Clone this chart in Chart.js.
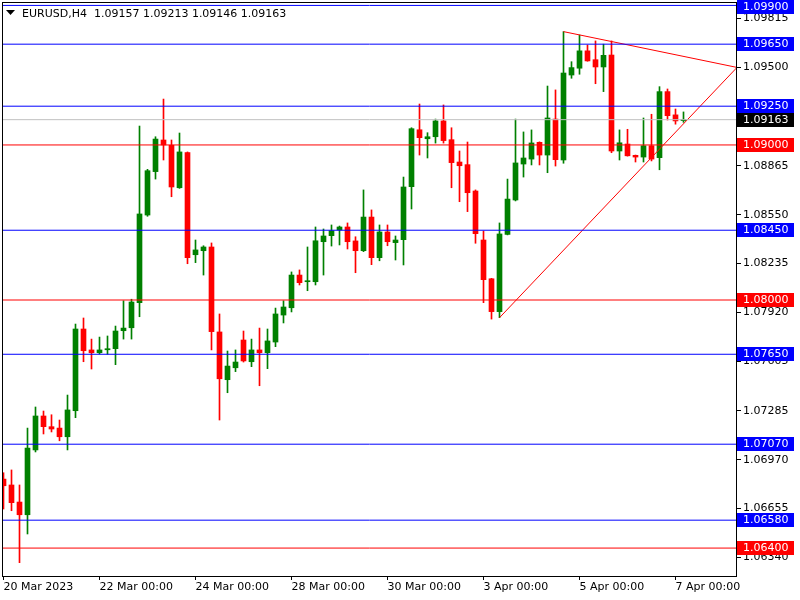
<!DOCTYPE html>
<html lang="en">
<head>
<meta charset="UTF-8">
<title>EURUSD,H4</title>
<script src="https://cdn.jsdelivr.net/npm/chart.js"></script>
<style>
    body { margin: 0; background: #fff; }
    canvas { display: block; }
</style>
</head>
<body>
<canvas id="chart" width="800" height="600"></canvas>
<script>
// EURUSD H4 candles, 20 Mar 2023 00:00 onwards (one candle per 4 hours)
const symbolTitle = 'EURUSD,H4';
const opens = [
    1.06845, 1.06807, 1.06697, 1.06615, 1.07033, 1.07252, 1.07183, 1.07174, 1.07118, 1.07286,
    1.07813, 1.07678, 1.07660, 1.07679, 1.07686, 1.07802, 1.07821, 1.07983, 1.08548, 1.08828,
    1.09032, 1.08998, 1.08724, 1.08951, 1.08292, 1.08318, 1.08342, 1.07794, 1.07486, 1.07563,
    1.07742, 1.07602, 1.07678, 1.07660, 1.07729, 1.07903, 1.07950, 1.08161, 1.08118, 1.08118,
    1.08376, 1.08415, 1.08452, 1.08471, 1.08381, 1.08318, 1.08535, 1.08273, 1.08439, 1.08370,
    1.08389, 1.08731, 1.09098, 1.09040, 1.09053, 1.09155, 1.09034, 1.08890, 1.08873, 1.08703,
    1.08387, 1.08137, 1.07925, 1.08423, 1.08645, 1.08877, 1.08909, 1.09017, 1.08935, 1.09167,
    1.08903, 1.09451, 1.09495, 1.09607, 1.09550, 1.09503, 1.09580, 1.08961, 1.09006, 1.08933,
    1.08922, 1.08995, 1.08918, 1.09344, 1.09194, 1.09157
];
const highs = [
    1.06886, 1.06904, 1.06807, 1.07174, 1.07310, 1.07284, 1.07260, 1.07226, 1.07387, 1.07845,
    1.07884, 1.07748, 1.07761, 1.07768, 1.07832, 1.07995, 1.08005, 1.09122, 1.08843, 1.09053,
    1.09296, 1.09032, 1.09077, 1.08955, 1.08387, 1.08350, 1.08368, 1.07910, 1.07671, 1.07678,
    1.07800, 1.07748, 1.07819, 1.07813, 1.07948, 1.07995, 1.08181, 1.08194, 1.08342, 1.08471,
    1.08458, 1.08484, 1.08477, 1.08497, 1.08408, 1.08710, 1.08581, 1.08484, 1.08484, 1.08413,
    1.08793, 1.09111, 1.09264, 1.09079, 1.09167, 1.09258, 1.09111, 1.08961, 1.09019, 1.08710,
    1.08445, 1.08140, 1.08497, 1.08780, 1.09167, 1.09084, 1.09097, 1.09020, 1.09380, 1.09355,
    1.09731, 1.09537, 1.09709, 1.09645, 1.09671, 1.09650, 1.09671, 1.09097, 1.09101, 1.08935,
    1.09174, 1.09198, 1.09376, 1.09361, 1.09232, 1.09213
];
const lows = [
    1.06652, 1.06641, 1.06306, 1.06491, 1.07020, 1.07136, 1.07149, 1.07092, 1.07033, 1.07241,
    1.07602, 1.07555, 1.07652, 1.07650, 1.07583, 1.07748, 1.07748, 1.07892, 1.08540, 1.08780,
    1.08903, 1.08666, 1.08720, 1.08234, 1.08241, 1.08161, 1.07678, 1.07226, 1.07402, 1.07538,
    1.07600, 1.07570, 1.07447, 1.07557, 1.07699, 1.07852, 1.07923, 1.08097, 1.08060, 1.08097,
    1.08161, 1.08348, 1.08355, 1.08329, 1.08176, 1.08312, 1.08228, 1.08253, 1.08350, 1.08258,
    1.08226, 1.08587, 1.08935, 1.08916, 1.09012, 1.09012, 1.08724, 1.08634, 1.08570, 1.08366,
    1.07983, 1.07877, 1.07886, 1.08420, 1.08639, 1.08793, 1.08871, 1.08871, 1.08821, 1.08864,
    1.08882, 1.09430, 1.09456, 1.09540, 1.09395, 1.09344, 1.08950, 1.08903, 1.08928, 1.08890,
    1.08890, 1.08897, 1.08840, 1.09161, 1.09134, 1.09146
];
const closes = [
    1.06802, 1.06693, 1.06615, 1.07045, 1.07252, 1.07183, 1.07168, 1.07118, 1.07291, 1.07813,
    1.07673, 1.07660, 1.07678, 1.07686, 1.07800, 1.07819, 1.07987, 1.08555, 1.08834, 1.09038,
    1.09000, 1.08729, 1.08955, 1.08273, 1.08323, 1.08342, 1.07796, 1.07492, 1.07574, 1.07600,
    1.07607, 1.07678, 1.07660, 1.07736, 1.07910, 1.07955, 1.08161, 1.08112, 1.08124, 1.08382,
    1.08413, 1.08447, 1.08471, 1.08376, 1.08318, 1.08535, 1.08273, 1.08439, 1.08376, 1.08387,
    1.08729, 1.09105, 1.09047, 1.09053, 1.09155, 1.09028, 1.08886, 1.08866, 1.08692, 1.08428,
    1.08131, 1.07925, 1.08426, 1.08651, 1.08884, 1.08916, 1.09013, 1.08935, 1.09174, 1.08905,
    1.09464, 1.09499, 1.09607, 1.09542, 1.09503, 1.09578, 1.08961, 1.09014, 1.08930, 1.08922,
    1.08995, 1.08909, 1.09344, 1.09189, 1.09155, 1.09163
];

// axis ticks
const xTickIndex = [0, 12, 24, 36, 48, 60, 72, 84];
const xTickLabels = ['20 Mar 2023', '22 Mar 00:00', '24 Mar 00:00', '28 Mar 00:00',
                     '30 Mar 00:00', '3 Apr 00:00', '5 Apr 00:00', '7 Apr 00:00'];
const yTicks = [1.09815, 1.09500, 1.09185, 1.08865, 1.08550, 1.08235,
                1.07920, 1.07605, 1.07285, 1.06970, 1.06655, 1.06340];

// horizontal levels + trend lines (start candle, start price, price at right edge)
const blueLevels = [1.0990, 1.0965, 1.0925, 1.0845, 1.0765, 1.0707, 1.0658];
const redLevels = [1.0900, 1.0800, 1.0640];
const bidPrice = 1.09163;
const trendLines = [[70, 1.09731, 1.09500], [62, 1.07886, 1.09500]];

const X_MIN = -0.1875, X_MAX = 91.6875;
const Y_MIN = 1.06220, Y_MAX = 1.09922;

const BULL = '#008000', BEAR = '#ff0000', BLUE = '#0000ff', RED = '#ff0000';
Chart.defaults.font.family = 'DejaVu Sans';
Chart.defaults.font.size = 11;
Chart.defaults.color = '#000';

const idx = opens.map((_, i) => i);
const candleColors = idx.map(i => closes[i] >= opens[i] ? BULL : BEAR);

function hLine(level, color) {
    return {
        type: 'line', data: [{x: X_MIN, y: level}, {x: X_MAX, y: level}],
        borderColor: color, borderWidth: 1, pointRadius: 0, order: 0
    };
}

const datasets = [];
blueLevels.forEach(l => datasets.push(hLine(l, BLUE)));
redLevels.forEach(l => datasets.push(hLine(l, RED)));
datasets.push(hLine(bidPrice, '#c0c0c0'));
trendLines.forEach(t => datasets.push({
    type: 'line', data: [{x: t[0], y: t[1]}, {x: X_MAX, y: t[2]}],
    borderColor: RED, borderWidth: 1, pointRadius: 0, order: 0
}));
// bodies
datasets.push({
    type: 'bar', data: idx.map(i => ({x: i, y: [opens[i], closes[i]]})),
    backgroundColor: candleColors, barThickness: 5, minBarLength: 1,
    grouped: false, order: 2
});
// wicks
datasets.push({
    type: 'bar', data: idx.map(i => ({x: i, y: [lows[i], highs[i]]})),
    backgroundColor: candleColors, barThickness: 1,
    grouped: false, order: 3
});

// title, frame and coloured price labels
const mtOverlay = {
    id: 'mtOverlay',
    afterDraw(chart) {
        const ctx = chart.ctx;
        const a = chart.chartArea;
        const y = chart.scales.y;
        ctx.save();
        ctx.strokeStyle = '#000';
        ctx.lineWidth = 1;
        ctx.strokeRect(a.left + 0.5, a.top + 0.5, a.right - a.left - 1, a.bottom - a.top);

        const last = opens.length - 1;
        ctx.fillStyle = '#000';
        ctx.beginPath();
        ctx.moveTo(6, 10); ctx.lineTo(15, 10); ctx.lineTo(10.5, 15); ctx.closePath();
        ctx.fill();
        ctx.font = '11px "DejaVu Sans"';
        ctx.textBaseline = 'alphabetic';
        ctx.fillText(symbolTitle + '  ' + [opens[last], highs[last], lows[last], closes[last]]
            .map(v => v.toFixed(5)).join(' '), 22, 17);

        const boxes = [];
        blueLevels.forEach(l => boxes.push([l, BLUE]));
        redLevels.forEach(l => boxes.push([l, RED]));
        boxes.push([bidPrice, '#000']);
        ctx.textBaseline = 'middle';
        boxes.forEach(([l, c]) => {
            const py = Math.round(y.getPixelForValue(l));
            const top = Math.max(0, py - 7);
            ctx.fillStyle = c;
            ctx.fillRect(a.right, top, 57, 14);
            ctx.fillStyle = '#fff';
            ctx.fillText(l.toFixed(5), a.right + 6, top + 7.5);
        });
        ctx.restore();
    }
};

new Chart(document.getElementById('chart'), {
    type: 'bar',
    data: { datasets },
    options: {
        responsive: false,
        animation: false,
        layout: { padding: { left: 2, top: 2, right: 0, bottom: 0 } },
        plugins: { legend: { display: false }, tooltip: { enabled: false } },
        scales: {
            x: {
                type: 'linear', min: X_MIN, max: X_MAX, offset: false,
                grid: { offset: false, drawOnChartArea: false, drawTicks: true, tickLength: 4, color: '#000' },
                border: { display: false },
                afterBuildTicks: s => { s.ticks = xTickIndex.map(v => ({value: v})); },
                afterFit: s => { s.height = 24; s.paddingLeft = 0; s.paddingRight = 0; },
                ticks: {
                    autoSkip: false, maxRotation: 0, minRotation: 0, align: 'start', padding: 1,
                    callback: (v, i) => xTickLabels[i]
                }
            },
            y: {
                type: 'linear', position: 'right', min: Y_MIN, max: Y_MAX,
                grid: { drawOnChartArea: false, drawTicks: true, tickLength: 4, color: '#000' },
                border: { display: false },
                afterBuildTicks: s => { s.ticks = yTicks.map(v => ({value: v})); },
                afterFit: s => { s.width = 63; s.paddingTop = 0; s.paddingBottom = 0; },
                ticks: { padding: 2, callback: v => v.toFixed(5) }
            }
        }
    },
    plugins: [mtOverlay]
});
</script>
</body>
</html>
